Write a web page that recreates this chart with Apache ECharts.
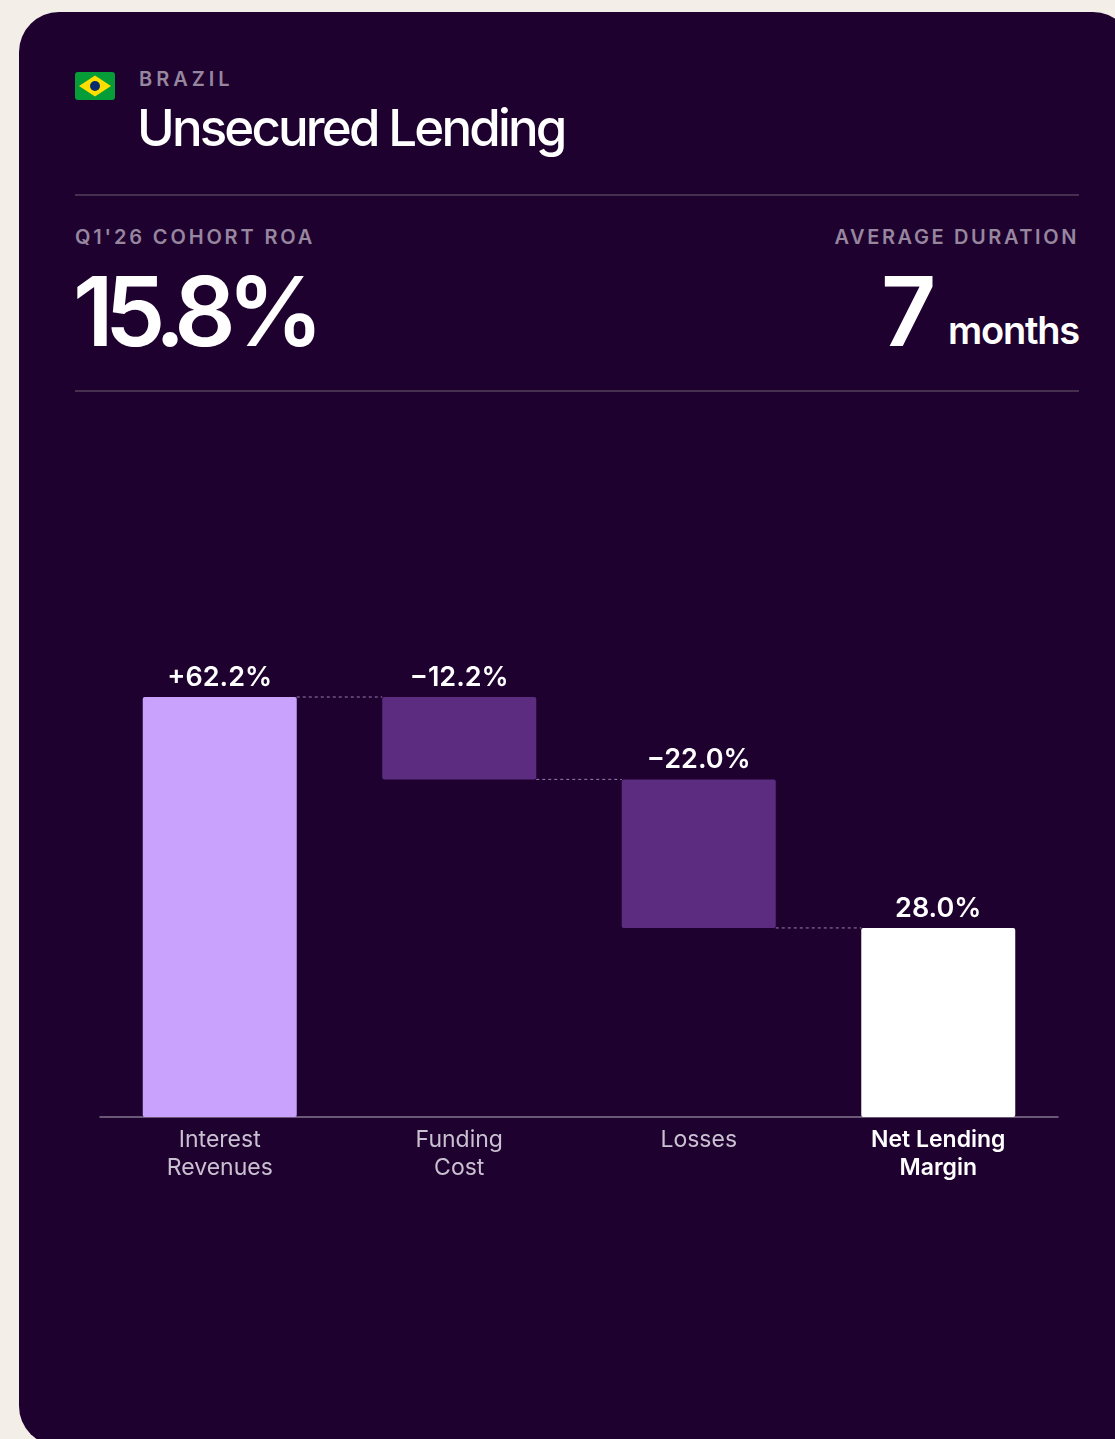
<!DOCTYPE html>
<html>
<head>
<meta charset="utf-8">
<title>Unsecured Lending</title>
<script src="https://cdn.jsdelivr.net/npm/echarts@6/dist/echarts.min.js"></script>
<style>
    html, body { margin: 0; width: 1115px; height: 1439px; overflow: hidden; background: #f3efe8; font-family: Inter, sans-serif; }
    .card { position: absolute; left: 19px; top: 12px; width: 1114px; height: 1434px; border-radius: 40px; background: #1f0130; }
    .abs { position: absolute; white-space: nowrap; line-height: 1; }
    .rule { position: absolute; left: 75px; width: 1004px; height: 2px; background: #46304f; }
    .eyebrow { color: #96879f; font-size: 20px; font-weight: 600; letter-spacing: 2.85px; }
    .big { color: #fff; font-size: 96px; font-weight: 600; letter-spacing: -8.5px; }
    #flag { position: absolute; left: 75px; top: 72px; }
    #myEchart { position: absolute; left: 0; top: 600px; width: 1115px; height: 700px; }
</style>
</head>
<body>
<div class="card"></div>

<svg id="flag" width="40" height="28" viewBox="0 0 40 28">
    <rect width="40" height="28" rx="3" fill="#069c38"/>
    <path d="M20 3.5 L36 14 L20 24.5 L4 14 Z" fill="#fedf00"/>
    <circle cx="20" cy="14" r="5" fill="#0a2a6e"/>
</svg>
<div class="abs eyebrow" style="left:139px;top:69px;letter-spacing:4px">BRAZIL</div>
<div class="abs" style="left:137px;top:102px;color:#fff;font-size:51px;font-weight:500;letter-spacing:-2.85px">Unsecured Lending</div>
<div class="rule" style="top:194px"></div>

<div class="abs eyebrow" style="left:75px;top:227px">Q1'26 COHORT ROA</div>
<div class="abs eyebrow" style="right:36px;top:227px;letter-spacing:2.6px">AVERAGE DURATION</div>
<div class="abs big" style="left:73px;top:263px">15.8%</div>
<div class="abs big" style="left:881px;top:263px">7</div>
<div class="abs" style="right:36px;top:311px;color:#fff;font-size:38px;font-weight:600;letter-spacing:-1.2px">months</div>
<div class="rule" style="top:390px"></div>

<div id="myEchart"></div>

<script>
// data
const categories = ['Interest\nRevenues', 'Funding\nCost', 'Losses', 'Net Lending\nMargin']
const bar_base = [0, 50, 28, 0]
const bar_height = [62.2, 12.2, 22, 28]
const bar_labels = ['+62.2%', '\u221212.2%', '\u221222.0%', '28.0%']
const bar_colors = ['#c9a2fe', '#5b2c80', '#5b2c80', '#ffffff']
// level of the dotted line that leaves each bar towards the next one
const connector_levels = [62.2, 50, 28]

const BAR_WIDTH = 154

const myChart = echarts.init(document.getElementById('myEchart'))

myChart.setOption({
    animation: false,
    backgroundColor: 'transparent',
    textStyle: { fontFamily: 'Inter' },
    grid: { left: 100, width: 958, top: 97, height: 420 },
    xAxis: {
        type: 'category',
        data: categories.map((name, i) => ({
            value: name,
            textStyle: i === 3
                ? { color: '#ffffff', fontWeight: 600 }
                : { color: '#c9c0d0', fontWeight: 400 }
        })),
        axisTick: { show: false },
        axisLine: { lineStyle: { color: '#85768f', width: 1.5 } },
        axisLabel: { fontSize: 23, lineHeight: 28, margin: 9, interval: 0, fontFamily: 'Inter' }
    },
    yAxis: { type: 'value', min: 0, max: 62.2, show: false },
    series: [
        {
            // invisible part of the waterfall
            type: 'bar',
            stack: 'waterfall',
            barWidth: BAR_WIDTH,
            silent: true,
            itemStyle: { color: 'transparent' },
            data: bar_base
        },
        {
            type: 'bar',
            stack: 'waterfall',
            barWidth: BAR_WIDTH,
            data: bar_height.map((v, i) => ({
                value: v,
                itemStyle: { color: bar_colors[i], borderRadius: 2 }
            })),
            label: {
                show: true,
                position: 'top',
                distance: 6,
                color: '#ffffff',
                fontSize: 27,
                fontWeight: 600,
                fontFamily: 'Inter',
                formatter: (p) => bar_labels[p.dataIndex]
            }
        },
        {
            // dotted connectors between the bars
            type: 'custom',
            silent: true,
            z: 1,
            data: connector_levels.map((level, i) => [i, level]),
            encode: { x: 0, y: 1 },
            renderItem: (params, api) => {
                const from = api.coord([api.value(0), api.value(1)])
                const to = api.coord([api.value(0) + 1, api.value(1)])
                return {
                    type: 'line',
                    shape: { x1: from[0] + BAR_WIDTH / 2, y1: from[1], x2: to[0] - BAR_WIDTH / 2, y2: to[1] },
                    style: { stroke: '#9a7fb0', lineWidth: 1, lineDash: [3, 3] }
                }
            }
        }
    ]
})
</script>
</body>
</html>
